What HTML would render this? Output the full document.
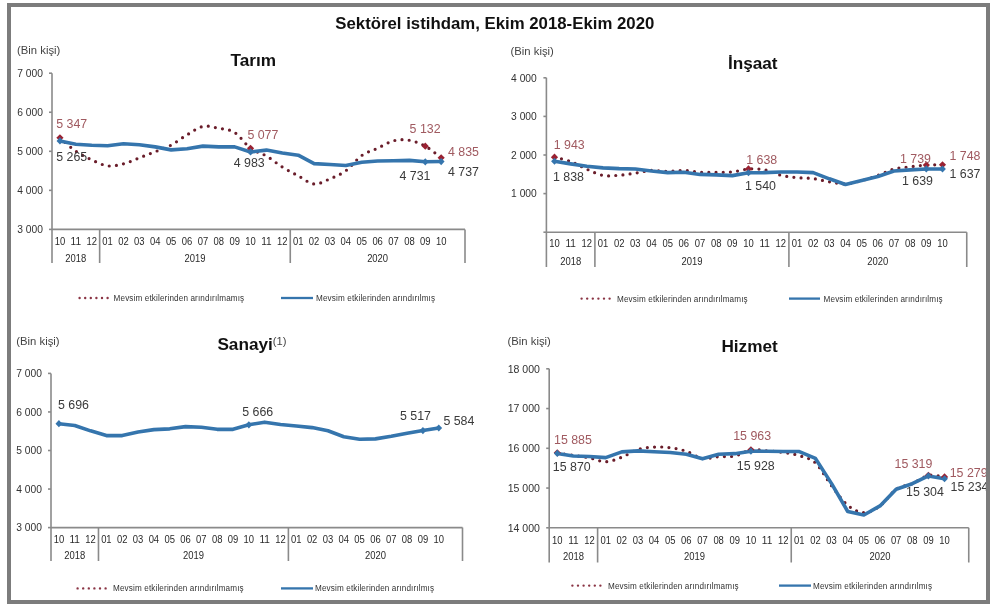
<!DOCTYPE html>
<html><head><meta charset="utf-8"><style>
html,body{margin:0;padding:0;background:#fff;width:1000px;height:611px;overflow:hidden}
svg{position:absolute;left:0;top:0;filter:blur(0.35px)}
text{font-family:"Liberation Sans", sans-serif}
.main{font-size:16.8px;font-weight:bold;fill:#111}
.ttl{font-size:17.2px;font-weight:bold;fill:#111}
.sup{font-size:11.2px;font-weight:normal;fill:#444}
.bin{font-size:11.3px;fill:#444}
.ylab{font-size:11.3px;fill:#333;text-anchor:end}
.mon{font-size:10.3px;fill:#2a2a2a;text-anchor:middle}
.axis{stroke:#8a8a8a;stroke-width:1.6;fill:none}
.red{stroke:#6a1d2a;stroke-width:3.2;fill:none;stroke-dasharray:0 7.2;stroke-linecap:round}
.blue{stroke:#3575ad;stroke-width:3.6;fill:none;stroke-linejoin:round}
.dl{font-size:13.2px}
.dl.r{fill:#a05a60}
.dl.d{fill:#3a3a3a}
.leg{font-size:8.15px;fill:#333;letter-spacing:0.14px}
.legdot{stroke:#8a3444;stroke-width:2.4;stroke-dasharray:0 5.6;stroke-linecap:round;fill:none}
.legline{stroke:#3575ad;stroke-width:2.3;fill:none}
</style></head><body>
<svg width="1000" height="611" viewBox="0 0 1000 611">
<rect x="0" y="0" width="1000" height="611" fill="#fff"/>
<text x="335.3" y="28.5" class="main">Sektörel istihdam, Ekim 2018-Ekim 2020</text>
<text x="17" y="53.5" class="bin">(Bin kişi)</text>
<text x="230.6" y="65.8" class="ttl">Tarım</text>
<path d="M52.00,73.20 V229.40 H465.00 M52.00,229.40 V263.00 M99.65,229.40 V263.00 M290.27,229.40 V263.00 M465.00,229.40 V263.00" class="axis"/>
<path d="M49.00,229.40 H52.00" class="axis"/>
<text x="43" y="233.20" class="ylab" textLength="25.7" lengthAdjust="spacingAndGlyphs">3 000</text>
<path d="M49.00,190.35 H52.00" class="axis"/>
<text x="43" y="194.15" class="ylab" textLength="25.7" lengthAdjust="spacingAndGlyphs">4 000</text>
<path d="M49.00,151.30 H52.00" class="axis"/>
<text x="43" y="155.10" class="ylab" textLength="25.7" lengthAdjust="spacingAndGlyphs">5 000</text>
<path d="M49.00,112.25 H52.00" class="axis"/>
<text x="43" y="116.05" class="ylab" textLength="25.7" lengthAdjust="spacingAndGlyphs">6 000</text>
<path d="M49.00,73.20 H52.00" class="axis"/>
<text x="43" y="77.00" class="ylab" textLength="25.7" lengthAdjust="spacingAndGlyphs">7 000</text>
<text x="59.94" y="245.00" class="mon" textLength="10.5" lengthAdjust="spacingAndGlyphs">10</text>
<text x="75.83" y="245.00" class="mon" textLength="10.5" lengthAdjust="spacingAndGlyphs">11</text>
<text x="91.71" y="245.00" class="mon" textLength="10.5" lengthAdjust="spacingAndGlyphs">12</text>
<text x="107.60" y="245.00" class="mon" textLength="10.5" lengthAdjust="spacingAndGlyphs">01</text>
<text x="123.48" y="245.00" class="mon" textLength="10.5" lengthAdjust="spacingAndGlyphs">02</text>
<text x="139.37" y="245.00" class="mon" textLength="10.5" lengthAdjust="spacingAndGlyphs">03</text>
<text x="155.25" y="245.00" class="mon" textLength="10.5" lengthAdjust="spacingAndGlyphs">04</text>
<text x="171.13" y="245.00" class="mon" textLength="10.5" lengthAdjust="spacingAndGlyphs">05</text>
<text x="187.02" y="245.00" class="mon" textLength="10.5" lengthAdjust="spacingAndGlyphs">06</text>
<text x="202.90" y="245.00" class="mon" textLength="10.5" lengthAdjust="spacingAndGlyphs">07</text>
<text x="218.79" y="245.00" class="mon" textLength="10.5" lengthAdjust="spacingAndGlyphs">08</text>
<text x="234.67" y="245.00" class="mon" textLength="10.5" lengthAdjust="spacingAndGlyphs">09</text>
<text x="250.56" y="245.00" class="mon" textLength="10.5" lengthAdjust="spacingAndGlyphs">10</text>
<text x="266.44" y="245.00" class="mon" textLength="10.5" lengthAdjust="spacingAndGlyphs">11</text>
<text x="282.33" y="245.00" class="mon" textLength="10.5" lengthAdjust="spacingAndGlyphs">12</text>
<text x="298.21" y="245.00" class="mon" textLength="10.5" lengthAdjust="spacingAndGlyphs">01</text>
<text x="314.10" y="245.00" class="mon" textLength="10.5" lengthAdjust="spacingAndGlyphs">02</text>
<text x="329.98" y="245.00" class="mon" textLength="10.5" lengthAdjust="spacingAndGlyphs">03</text>
<text x="345.87" y="245.00" class="mon" textLength="10.5" lengthAdjust="spacingAndGlyphs">04</text>
<text x="361.75" y="245.00" class="mon" textLength="10.5" lengthAdjust="spacingAndGlyphs">05</text>
<text x="377.63" y="245.00" class="mon" textLength="10.5" lengthAdjust="spacingAndGlyphs">06</text>
<text x="393.52" y="245.00" class="mon" textLength="10.5" lengthAdjust="spacingAndGlyphs">07</text>
<text x="409.40" y="245.00" class="mon" textLength="10.5" lengthAdjust="spacingAndGlyphs">08</text>
<text x="425.29" y="245.00" class="mon" textLength="10.5" lengthAdjust="spacingAndGlyphs">09</text>
<text x="441.17" y="245.00" class="mon" textLength="10.5" lengthAdjust="spacingAndGlyphs">10</text>
<text x="75.83" y="262.00" class="mon" textLength="21" lengthAdjust="spacingAndGlyphs">2018</text>
<text x="194.96" y="262.00" class="mon" textLength="21" lengthAdjust="spacingAndGlyphs">2019</text>
<text x="377.63" y="262.00" class="mon" textLength="21" lengthAdjust="spacingAndGlyphs">2020</text>
<path d="M59.94,137.75 C62.59,140.01 70.53,147.62 75.83,151.30 C81.12,154.98 86.42,157.39 91.71,159.81 C97.01,162.23 102.30,165.16 107.60,165.83 C112.89,166.50 118.19,165.17 123.48,163.84 C128.78,162.50 134.07,159.85 139.37,157.82 C144.66,155.80 149.96,153.81 155.25,151.69 C160.54,149.57 165.84,147.90 171.13,145.09 C176.43,142.29 181.72,137.96 187.02,134.86 C192.31,131.76 197.61,127.56 202.90,126.46 C208.20,125.36 213.49,127.26 218.79,128.26 C224.08,129.26 229.38,129.14 234.67,132.48 C239.97,135.82 245.26,144.37 250.56,148.29 C255.85,152.22 261.15,152.90 266.44,156.03 C271.74,159.15 277.03,163.74 282.33,167.04 C287.62,170.34 292.92,173.01 298.21,175.82 C303.51,178.64 308.80,183.44 314.10,183.95 C319.39,184.45 324.69,181.04 329.98,178.83 C335.28,176.62 340.57,174.59 345.87,170.71 C351.16,166.82 356.46,159.27 361.75,155.52 C367.04,151.77 372.34,150.67 377.63,148.22 C382.93,145.76 388.22,142.12 393.52,140.80 C398.81,139.47 404.11,139.40 409.40,140.29 C414.70,141.18 419.99,143.24 425.29,146.15 C430.58,149.05 438.53,155.81 441.17,157.74" class="red"/>
<path d="M59.94,140.95 L75.83,144.31 L91.71,145.29 L107.60,145.79 L123.48,143.80 L139.37,144.78 L155.25,146.89 L171.13,149.89 L187.02,148.68 L202.90,146.11 L218.79,146.89 L234.67,146.89 L250.56,151.96 L266.44,150.09 L282.33,153.02 L298.21,155.21 L314.10,163.60 L329.98,164.50 L345.87,165.51 L361.75,162.31 L377.63,161.02 L393.52,160.71 L409.40,160.40 L425.29,161.80 L441.17,161.57" class="blue"/>
<path d="M59.94,134.15 L63.54,137.75 L59.94,141.35 L56.34,137.75Z" fill="#9a2232"/>
<path d="M59.94,137.35 L63.34,140.95 L59.94,144.55 L56.54,140.95Z" fill="#3575ad"/>
<path d="M250.56,144.69 L254.16,148.29 L250.56,151.89 L246.96,148.29Z" fill="#9a2232"/>
<path d="M250.56,148.36 L253.96,151.96 L250.56,155.56 L247.16,151.96Z" fill="#3575ad"/>
<path d="M425.29,142.55 L428.89,146.15 L425.29,149.75 L421.69,146.15Z" fill="#9a2232"/>
<path d="M425.29,158.20 L428.69,161.80 L425.29,165.40 L421.89,161.80Z" fill="#3575ad"/>
<path d="M441.17,154.14 L444.77,157.74 L441.17,161.34 L437.57,157.74Z" fill="#9a2232"/>
<path d="M441.17,157.97 L444.57,161.57 L441.17,165.17 L437.77,161.57Z" fill="#3575ad"/>
<text x="56.25" y="127.95" class="dl r" textLength="31.02" lengthAdjust="spacingAndGlyphs">5 347</text>
<text x="56.25" y="161.20" class="dl d" textLength="31.02" lengthAdjust="spacingAndGlyphs">5 265</text>
<text x="247.4" y="138.50" class="dl r" textLength="31.02" lengthAdjust="spacingAndGlyphs">5 077</text>
<text x="233.75" y="166.50" class="dl d" textLength="31.02" lengthAdjust="spacingAndGlyphs">4 983</text>
<text x="409.6" y="132.90" class="dl r" textLength="31.02" lengthAdjust="spacingAndGlyphs">5 132</text>
<text x="399.5" y="180.45" class="dl d" textLength="31.02" lengthAdjust="spacingAndGlyphs">4 731</text>
<text x="448" y="156.20" class="dl r" textLength="31.02" lengthAdjust="spacingAndGlyphs">4 835</text>
<text x="448" y="176.20" class="dl d" textLength="31.02" lengthAdjust="spacingAndGlyphs">4 737</text>
<path d="M79.60,298.00 H108.00" class="legdot"/>
<text x="113.6" y="301.00" class="leg">Mevsim etkilerinden arındırılmamış</text>
<path d="M281.00,298.00 H313.00" class="legline"/>
<text x="316" y="301.00" class="leg">Mevsim etkilerinden arındırılmış</text>
<text x="510.5" y="54.5" class="bin">(Bin kişi)</text>
<text x="727.9" y="68.6" class="ttl">İnşaat</text>
<path d="M546.40,77.80 V232.20 H966.75 M546.40,232.20 V267.00 M594.90,232.20 V267.00 M788.91,232.20 V267.00 M966.75,232.20 V267.00" class="axis"/>
<path d="M543.40,232.20 H546.40" class="axis"/>
<path d="M543.40,193.60 H546.40" class="axis"/>
<text x="536.8" y="197.40" class="ylab" textLength="25.7" lengthAdjust="spacingAndGlyphs">1 000</text>
<path d="M543.40,155.00 H546.40" class="axis"/>
<text x="536.8" y="158.80" class="ylab" textLength="25.7" lengthAdjust="spacingAndGlyphs">2 000</text>
<path d="M543.40,116.40 H546.40" class="axis"/>
<text x="536.8" y="120.20" class="ylab" textLength="25.7" lengthAdjust="spacingAndGlyphs">3 000</text>
<path d="M543.40,77.80 H546.40" class="axis"/>
<text x="536.8" y="81.60" class="ylab" textLength="25.7" lengthAdjust="spacingAndGlyphs">4 000</text>
<text x="554.48" y="247.00" class="mon" textLength="10.5" lengthAdjust="spacingAndGlyphs">10</text>
<text x="570.65" y="247.00" class="mon" textLength="10.5" lengthAdjust="spacingAndGlyphs">11</text>
<text x="586.82" y="247.00" class="mon" textLength="10.5" lengthAdjust="spacingAndGlyphs">12</text>
<text x="602.99" y="247.00" class="mon" textLength="10.5" lengthAdjust="spacingAndGlyphs">01</text>
<text x="619.15" y="247.00" class="mon" textLength="10.5" lengthAdjust="spacingAndGlyphs">02</text>
<text x="635.32" y="247.00" class="mon" textLength="10.5" lengthAdjust="spacingAndGlyphs">03</text>
<text x="651.49" y="247.00" class="mon" textLength="10.5" lengthAdjust="spacingAndGlyphs">04</text>
<text x="667.65" y="247.00" class="mon" textLength="10.5" lengthAdjust="spacingAndGlyphs">05</text>
<text x="683.82" y="247.00" class="mon" textLength="10.5" lengthAdjust="spacingAndGlyphs">06</text>
<text x="699.99" y="247.00" class="mon" textLength="10.5" lengthAdjust="spacingAndGlyphs">07</text>
<text x="716.16" y="247.00" class="mon" textLength="10.5" lengthAdjust="spacingAndGlyphs">08</text>
<text x="732.32" y="247.00" class="mon" textLength="10.5" lengthAdjust="spacingAndGlyphs">09</text>
<text x="748.49" y="247.00" class="mon" textLength="10.5" lengthAdjust="spacingAndGlyphs">10</text>
<text x="764.66" y="247.00" class="mon" textLength="10.5" lengthAdjust="spacingAndGlyphs">11</text>
<text x="780.83" y="247.00" class="mon" textLength="10.5" lengthAdjust="spacingAndGlyphs">12</text>
<text x="796.99" y="247.00" class="mon" textLength="10.5" lengthAdjust="spacingAndGlyphs">01</text>
<text x="813.16" y="247.00" class="mon" textLength="10.5" lengthAdjust="spacingAndGlyphs">02</text>
<text x="829.33" y="247.00" class="mon" textLength="10.5" lengthAdjust="spacingAndGlyphs">03</text>
<text x="845.50" y="247.00" class="mon" textLength="10.5" lengthAdjust="spacingAndGlyphs">04</text>
<text x="861.66" y="247.00" class="mon" textLength="10.5" lengthAdjust="spacingAndGlyphs">05</text>
<text x="877.83" y="247.00" class="mon" textLength="10.5" lengthAdjust="spacingAndGlyphs">06</text>
<text x="894.00" y="247.00" class="mon" textLength="10.5" lengthAdjust="spacingAndGlyphs">07</text>
<text x="910.16" y="247.00" class="mon" textLength="10.5" lengthAdjust="spacingAndGlyphs">08</text>
<text x="926.33" y="247.00" class="mon" textLength="10.5" lengthAdjust="spacingAndGlyphs">09</text>
<text x="942.50" y="247.00" class="mon" textLength="10.5" lengthAdjust="spacingAndGlyphs">10</text>
<text x="570.65" y="265.00" class="mon" textLength="21" lengthAdjust="spacingAndGlyphs">2018</text>
<text x="691.91" y="265.00" class="mon" textLength="21" lengthAdjust="spacingAndGlyphs">2019</text>
<text x="877.83" y="265.00" class="mon" textLength="21" lengthAdjust="spacingAndGlyphs">2020</text>
<path d="M554.48,157.20 C557.18,157.91 565.26,159.48 570.65,161.48 C576.04,163.49 581.43,166.92 586.82,169.24 C592.21,171.57 597.60,174.42 602.99,175.42 C608.37,176.42 613.76,175.61 619.15,175.23 C624.54,174.85 629.93,173.94 635.32,173.14 C640.71,172.34 646.10,170.72 651.49,170.44 C656.88,170.16 662.27,171.44 667.65,171.44 C673.04,171.44 678.43,170.30 683.82,170.44 C689.21,170.58 694.60,171.95 699.99,172.25 C705.38,172.56 710.77,172.31 716.16,172.25 C721.55,172.20 726.93,172.49 732.32,171.95 C737.71,171.40 743.10,169.32 748.49,168.97 C753.88,168.63 759.27,168.82 764.66,169.86 C770.05,170.90 775.44,173.93 780.83,175.23 C786.22,176.52 791.60,177.05 796.99,177.62 C802.38,178.19 807.77,177.93 813.16,178.62 C818.55,179.32 823.94,180.91 829.33,181.79 C834.72,182.66 840.11,184.07 845.50,183.87 C850.88,183.67 856.27,181.99 861.66,180.59 C867.05,179.19 872.44,177.39 877.83,175.46 C883.22,173.53 888.61,170.45 894.00,169.01 C899.39,167.58 904.78,167.51 910.16,166.85 C915.55,166.19 920.94,165.43 926.33,165.07 C931.72,164.72 939.80,164.79 942.50,164.73" class="red"/>
<path d="M554.48,161.25 L570.65,163.88 L586.82,166.27 L602.99,167.85 L619.15,168.66 L635.32,168.93 L651.49,171.02 L667.65,172.64 L683.82,172.25 L699.99,174.42 L716.16,174.92 L732.32,175.61 L748.49,172.76 L764.66,172.64 L780.83,171.95 L796.99,171.95 L813.16,172.64 L829.33,178.82 L845.50,184.57 L861.66,180.59 L877.83,176.42 L894.00,171.02 L910.16,169.86 L926.33,168.93 L942.50,169.01" class="blue"/>
<path d="M554.48,153.60 L558.08,157.20 L554.48,160.80 L550.88,157.20Z" fill="#9a2232"/>
<path d="M554.48,157.65 L557.88,161.25 L554.48,164.85 L551.08,161.25Z" fill="#3575ad"/>
<path d="M748.49,165.37 L752.09,168.97 L748.49,172.57 L744.89,168.97Z" fill="#9a2232"/>
<path d="M748.49,169.16 L751.89,172.76 L748.49,176.36 L745.09,172.76Z" fill="#3575ad"/>
<path d="M926.33,161.47 L929.93,165.07 L926.33,168.67 L922.73,165.07Z" fill="#9a2232"/>
<path d="M926.33,165.33 L929.73,168.93 L926.33,172.53 L922.93,168.93Z" fill="#3575ad"/>
<path d="M942.50,161.13 L946.10,164.73 L942.50,168.33 L938.90,164.73Z" fill="#9a2232"/>
<path d="M942.50,165.41 L945.90,169.01 L942.50,172.61 L939.10,169.01Z" fill="#3575ad"/>
<text x="553.75" y="149.20" class="dl r" textLength="31.02" lengthAdjust="spacingAndGlyphs">1 943</text>
<text x="553" y="181.20" class="dl d" textLength="31.02" lengthAdjust="spacingAndGlyphs">1 838</text>
<text x="746.25" y="163.70" class="dl r" textLength="31.02" lengthAdjust="spacingAndGlyphs">1 638</text>
<text x="745" y="190.45" class="dl d" textLength="31.02" lengthAdjust="spacingAndGlyphs">1 540</text>
<text x="900" y="162.95" class="dl r" textLength="31.02" lengthAdjust="spacingAndGlyphs">1 739</text>
<text x="902" y="185.45" class="dl d" textLength="31.02" lengthAdjust="spacingAndGlyphs">1 639</text>
<text x="949.5" y="159.70" class="dl r" textLength="31.02" lengthAdjust="spacingAndGlyphs">1 748</text>
<text x="949.5" y="177.95" class="dl d" textLength="31.02" lengthAdjust="spacingAndGlyphs">1 637</text>
<path d="M581.60,298.60 H611.00" class="legdot"/>
<text x="617" y="301.60" class="leg">Mevsim etkilerinden arındırılmamış</text>
<path d="M789.00,298.60 H820.00" class="legline"/>
<text x="823.6" y="301.60" class="leg">Mevsim etkilerinden arındırılmış</text>
<text x="16.25" y="344.5" class="bin">(Bin kişi)</text>
<text x="217.4" y="349.8" class="ttl">Sanayi<tspan class="sup" dy="-4.6">(1)</tspan></text>
<path d="M51.00,373.40 V527.60 H462.50 M51.00,527.60 V561.00 M98.48,527.60 V561.00 M288.40,527.60 V561.00 M462.50,527.60 V561.00" class="axis"/>
<path d="M48.00,527.60 H51.00" class="axis"/>
<text x="42" y="531.40" class="ylab" textLength="25.7" lengthAdjust="spacingAndGlyphs">3 000</text>
<path d="M48.00,489.05 H51.00" class="axis"/>
<text x="42" y="492.85" class="ylab" textLength="25.7" lengthAdjust="spacingAndGlyphs">4 000</text>
<path d="M48.00,450.50 H51.00" class="axis"/>
<text x="42" y="454.30" class="ylab" textLength="25.7" lengthAdjust="spacingAndGlyphs">5 000</text>
<path d="M48.00,411.95 H51.00" class="axis"/>
<text x="42" y="415.75" class="ylab" textLength="25.7" lengthAdjust="spacingAndGlyphs">6 000</text>
<path d="M48.00,373.40 H51.00" class="axis"/>
<text x="42" y="377.20" class="ylab" textLength="25.7" lengthAdjust="spacingAndGlyphs">7 000</text>
<text x="58.91" y="543.00" class="mon" textLength="10.5" lengthAdjust="spacingAndGlyphs">10</text>
<text x="74.74" y="543.00" class="mon" textLength="10.5" lengthAdjust="spacingAndGlyphs">11</text>
<text x="90.57" y="543.00" class="mon" textLength="10.5" lengthAdjust="spacingAndGlyphs">12</text>
<text x="106.39" y="543.00" class="mon" textLength="10.5" lengthAdjust="spacingAndGlyphs">01</text>
<text x="122.22" y="543.00" class="mon" textLength="10.5" lengthAdjust="spacingAndGlyphs">02</text>
<text x="138.05" y="543.00" class="mon" textLength="10.5" lengthAdjust="spacingAndGlyphs">03</text>
<text x="153.88" y="543.00" class="mon" textLength="10.5" lengthAdjust="spacingAndGlyphs">04</text>
<text x="169.70" y="543.00" class="mon" textLength="10.5" lengthAdjust="spacingAndGlyphs">05</text>
<text x="185.53" y="543.00" class="mon" textLength="10.5" lengthAdjust="spacingAndGlyphs">06</text>
<text x="201.36" y="543.00" class="mon" textLength="10.5" lengthAdjust="spacingAndGlyphs">07</text>
<text x="217.18" y="543.00" class="mon" textLength="10.5" lengthAdjust="spacingAndGlyphs">08</text>
<text x="233.01" y="543.00" class="mon" textLength="10.5" lengthAdjust="spacingAndGlyphs">09</text>
<text x="248.84" y="543.00" class="mon" textLength="10.5" lengthAdjust="spacingAndGlyphs">10</text>
<text x="264.66" y="543.00" class="mon" textLength="10.5" lengthAdjust="spacingAndGlyphs">11</text>
<text x="280.49" y="543.00" class="mon" textLength="10.5" lengthAdjust="spacingAndGlyphs">12</text>
<text x="296.32" y="543.00" class="mon" textLength="10.5" lengthAdjust="spacingAndGlyphs">01</text>
<text x="312.14" y="543.00" class="mon" textLength="10.5" lengthAdjust="spacingAndGlyphs">02</text>
<text x="327.97" y="543.00" class="mon" textLength="10.5" lengthAdjust="spacingAndGlyphs">03</text>
<text x="343.80" y="543.00" class="mon" textLength="10.5" lengthAdjust="spacingAndGlyphs">04</text>
<text x="359.62" y="543.00" class="mon" textLength="10.5" lengthAdjust="spacingAndGlyphs">05</text>
<text x="375.45" y="543.00" class="mon" textLength="10.5" lengthAdjust="spacingAndGlyphs">06</text>
<text x="391.28" y="543.00" class="mon" textLength="10.5" lengthAdjust="spacingAndGlyphs">07</text>
<text x="407.11" y="543.00" class="mon" textLength="10.5" lengthAdjust="spacingAndGlyphs">08</text>
<text x="422.93" y="543.00" class="mon" textLength="10.5" lengthAdjust="spacingAndGlyphs">09</text>
<text x="438.76" y="543.00" class="mon" textLength="10.5" lengthAdjust="spacingAndGlyphs">10</text>
<text x="74.74" y="559.00" class="mon" textLength="21" lengthAdjust="spacingAndGlyphs">2018</text>
<text x="193.44" y="559.00" class="mon" textLength="21" lengthAdjust="spacingAndGlyphs">2019</text>
<text x="375.45" y="559.00" class="mon" textLength="21" lengthAdjust="spacingAndGlyphs">2020</text>
<path d="M58.91,423.67 L74.74,425.44 L90.57,430.84 L106.39,435.58 L122.22,435.58 L138.05,432.00 L153.88,429.61 L169.70,428.83 L185.53,426.64 L201.36,427.25 L217.18,429.34 L233.01,429.34 L248.84,424.83 L264.66,422.17 L280.49,424.56 L296.32,426.02 L312.14,427.60 L327.97,430.80 L343.80,436.78 L359.62,439.28 L375.45,438.90 L391.28,436.31 L407.11,433.31 L422.93,430.57 L438.76,427.99" class="blue"/>
<path d="M58.91,420.07 L62.31,423.67 L58.91,427.27 L55.51,423.67Z" fill="#3575ad"/>
<path d="M248.84,421.23 L252.24,424.83 L248.84,428.43 L245.44,424.83Z" fill="#3575ad"/>
<path d="M422.93,426.97 L426.33,430.57 L422.93,434.17 L419.53,430.57Z" fill="#3575ad"/>
<path d="M438.76,424.39 L442.16,427.99 L438.76,431.59 L435.36,427.99Z" fill="#3575ad"/>
<text x="58" y="408.70" class="dl d" textLength="31.02" lengthAdjust="spacingAndGlyphs">5 696</text>
<text x="242.2" y="416.40" class="dl d" textLength="31.02" lengthAdjust="spacingAndGlyphs">5 666</text>
<text x="400" y="420.20" class="dl d" textLength="31.02" lengthAdjust="spacingAndGlyphs">5 517</text>
<text x="443.4" y="424.90" class="dl d" textLength="31.02" lengthAdjust="spacingAndGlyphs">5 584</text>
<path d="M77.60,588.40 H107.00" class="legdot"/>
<text x="113" y="591.40" class="leg">Mevsim etkilerinden arındırılmamış</text>
<path d="M281.00,588.40 H313.00" class="legline"/>
<text x="315" y="591.40" class="leg">Mevsim etkilerinden arındırılmış</text>
<text x="507.5" y="344.5" class="bin">(Bin kişi)</text>
<text x="721.4" y="352.2" class="ttl">Hizmet</text>
<path d="M549.20,368.80 V527.80 H968.75 M549.20,527.80 V562.50 M597.61,527.80 V562.50 M791.25,527.80 V562.50 M968.75,527.80 V562.50" class="axis"/>
<path d="M546.20,527.80 H549.20" class="axis"/>
<text x="540" y="531.60" class="ylab" textLength="32.3" lengthAdjust="spacingAndGlyphs">14 000</text>
<path d="M546.20,488.05 H549.20" class="axis"/>
<text x="540" y="491.85" class="ylab" textLength="32.3" lengthAdjust="spacingAndGlyphs">15 000</text>
<path d="M546.20,448.30 H549.20" class="axis"/>
<text x="540" y="452.10" class="ylab" textLength="32.3" lengthAdjust="spacingAndGlyphs">16 000</text>
<path d="M546.20,408.55 H549.20" class="axis"/>
<text x="540" y="412.35" class="ylab" textLength="32.3" lengthAdjust="spacingAndGlyphs">17 000</text>
<path d="M546.20,368.80 H549.20" class="axis"/>
<text x="540" y="372.60" class="ylab" textLength="32.3" lengthAdjust="spacingAndGlyphs">18 000</text>
<text x="557.27" y="544.00" class="mon" textLength="10.5" lengthAdjust="spacingAndGlyphs">10</text>
<text x="573.40" y="544.00" class="mon" textLength="10.5" lengthAdjust="spacingAndGlyphs">11</text>
<text x="589.54" y="544.00" class="mon" textLength="10.5" lengthAdjust="spacingAndGlyphs">12</text>
<text x="605.68" y="544.00" class="mon" textLength="10.5" lengthAdjust="spacingAndGlyphs">01</text>
<text x="621.81" y="544.00" class="mon" textLength="10.5" lengthAdjust="spacingAndGlyphs">02</text>
<text x="637.95" y="544.00" class="mon" textLength="10.5" lengthAdjust="spacingAndGlyphs">03</text>
<text x="654.09" y="544.00" class="mon" textLength="10.5" lengthAdjust="spacingAndGlyphs">04</text>
<text x="670.22" y="544.00" class="mon" textLength="10.5" lengthAdjust="spacingAndGlyphs">05</text>
<text x="686.36" y="544.00" class="mon" textLength="10.5" lengthAdjust="spacingAndGlyphs">06</text>
<text x="702.50" y="544.00" class="mon" textLength="10.5" lengthAdjust="spacingAndGlyphs">07</text>
<text x="718.63" y="544.00" class="mon" textLength="10.5" lengthAdjust="spacingAndGlyphs">08</text>
<text x="734.77" y="544.00" class="mon" textLength="10.5" lengthAdjust="spacingAndGlyphs">09</text>
<text x="750.91" y="544.00" class="mon" textLength="10.5" lengthAdjust="spacingAndGlyphs">10</text>
<text x="767.04" y="544.00" class="mon" textLength="10.5" lengthAdjust="spacingAndGlyphs">11</text>
<text x="783.18" y="544.00" class="mon" textLength="10.5" lengthAdjust="spacingAndGlyphs">12</text>
<text x="799.32" y="544.00" class="mon" textLength="10.5" lengthAdjust="spacingAndGlyphs">01</text>
<text x="815.45" y="544.00" class="mon" textLength="10.5" lengthAdjust="spacingAndGlyphs">02</text>
<text x="831.59" y="544.00" class="mon" textLength="10.5" lengthAdjust="spacingAndGlyphs">03</text>
<text x="847.73" y="544.00" class="mon" textLength="10.5" lengthAdjust="spacingAndGlyphs">04</text>
<text x="863.86" y="544.00" class="mon" textLength="10.5" lengthAdjust="spacingAndGlyphs">05</text>
<text x="880.00" y="544.00" class="mon" textLength="10.5" lengthAdjust="spacingAndGlyphs">06</text>
<text x="896.14" y="544.00" class="mon" textLength="10.5" lengthAdjust="spacingAndGlyphs">07</text>
<text x="912.27" y="544.00" class="mon" textLength="10.5" lengthAdjust="spacingAndGlyphs">08</text>
<text x="928.41" y="544.00" class="mon" textLength="10.5" lengthAdjust="spacingAndGlyphs">09</text>
<text x="944.55" y="544.00" class="mon" textLength="10.5" lengthAdjust="spacingAndGlyphs">10</text>
<text x="573.40" y="560.00" class="mon" textLength="21" lengthAdjust="spacingAndGlyphs">2018</text>
<text x="694.43" y="560.00" class="mon" textLength="21" lengthAdjust="spacingAndGlyphs">2019</text>
<text x="880.00" y="560.00" class="mon" textLength="21" lengthAdjust="spacingAndGlyphs">2020</text>
<path d="M557.27,452.87 C559.96,453.30 568.03,454.63 573.40,455.45 C578.78,456.28 584.16,456.79 589.54,457.84 C594.92,458.89 600.30,461.83 605.68,461.74 C611.06,461.64 616.44,459.28 621.81,457.24 C627.19,455.20 632.57,451.18 637.95,449.49 C643.33,447.80 648.71,447.41 654.09,447.11 C659.47,446.81 664.85,447.01 670.22,447.70 C675.60,448.40 680.98,449.49 686.36,451.28 C691.74,453.07 697.12,457.54 702.50,458.44 C707.88,459.33 713.25,457.04 718.63,456.65 C724.01,456.25 729.39,457.20 734.77,456.05 C740.15,454.91 745.53,450.65 750.91,449.77 C756.29,448.90 761.66,450.37 767.04,450.80 C772.42,451.24 777.80,451.59 783.18,452.39 C788.56,453.20 793.94,453.90 799.32,455.65 C804.70,457.41 810.07,457.91 815.45,462.93 C820.83,467.95 826.21,478.73 831.59,485.78 C836.97,492.84 842.35,500.79 847.73,505.26 C853.10,509.73 858.48,512.50 863.86,512.62 C869.24,512.73 874.62,509.83 880.00,505.94 C885.38,502.04 890.76,492.95 896.14,489.24 C901.51,485.53 906.89,485.99 912.27,483.68 C917.65,481.37 923.03,476.49 928.41,475.37 C933.79,474.25 941.86,476.69 944.55,476.96" class="red"/>
<path d="M557.27,453.47 L573.40,456.05 L589.54,456.45 L605.68,457.64 L621.81,451.88 L637.95,450.88 L654.09,451.68 L670.22,452.47 L686.36,454.26 L702.50,458.83 L718.63,454.26 L734.77,453.67 L750.91,451.16 L767.04,451.28 L783.18,451.56 L799.32,451.56 L815.45,458.44 L831.59,483.60 L847.73,511.50 L863.86,515.00 L880.00,505.94 L896.14,489.24 L912.27,483.68 L928.41,475.97 L944.55,478.75" class="blue"/>
<path d="M557.27,449.27 L560.87,452.87 L557.27,456.47 L553.67,452.87Z" fill="#9a2232"/>
<path d="M557.27,449.87 L560.67,453.47 L557.27,457.07 L553.87,453.47Z" fill="#3575ad"/>
<path d="M750.91,446.17 L754.51,449.77 L750.91,453.37 L747.31,449.77Z" fill="#9a2232"/>
<path d="M750.91,447.56 L754.31,451.16 L750.91,454.76 L747.51,451.16Z" fill="#3575ad"/>
<path d="M928.41,471.77 L932.01,475.37 L928.41,478.97 L924.81,475.37Z" fill="#9a2232"/>
<path d="M928.41,472.37 L931.81,475.97 L928.41,479.57 L925.01,475.97Z" fill="#3575ad"/>
<path d="M944.55,473.36 L948.15,476.96 L944.55,480.56 L940.95,476.96Z" fill="#9a2232"/>
<path d="M944.55,475.15 L947.95,478.75 L944.55,482.35 L941.15,478.75Z" fill="#3575ad"/>
<text x="554" y="444.40" class="dl r" textLength="37.92" lengthAdjust="spacingAndGlyphs">15 885</text>
<text x="552.8" y="471.40" class="dl d" textLength="37.92" lengthAdjust="spacingAndGlyphs">15 870</text>
<text x="733.2" y="440.20" class="dl r" textLength="37.92" lengthAdjust="spacingAndGlyphs">15 963</text>
<text x="736.8" y="469.70" class="dl d" textLength="37.92" lengthAdjust="spacingAndGlyphs">15 928</text>
<text x="894.5" y="467.50" class="dl r" textLength="37.92" lengthAdjust="spacingAndGlyphs">15 319</text>
<text x="906" y="496.20" class="dl d" textLength="37.92" lengthAdjust="spacingAndGlyphs">15 304</text>
<text x="949.7" y="476.60" class="dl r" textLength="37.92" lengthAdjust="spacingAndGlyphs">15 279</text>
<text x="950.6" y="491.20" class="dl d" textLength="37.92" lengthAdjust="spacingAndGlyphs">15 234</text>
<path d="M572.40,585.60 H602.00" class="legdot"/>
<text x="608" y="588.60" class="leg">Mevsim etkilerinden arındırılmamış</text>
<path d="M779.00,585.60 H811.00" class="legline"/>
<text x="813" y="588.60" class="leg">Mevsim etkilerinden arındırılmış</text>
<rect x="9" y="5" width="979" height="597" fill="none" stroke="#7c7c7c" stroke-width="4"/>
</svg>
</body></html>
